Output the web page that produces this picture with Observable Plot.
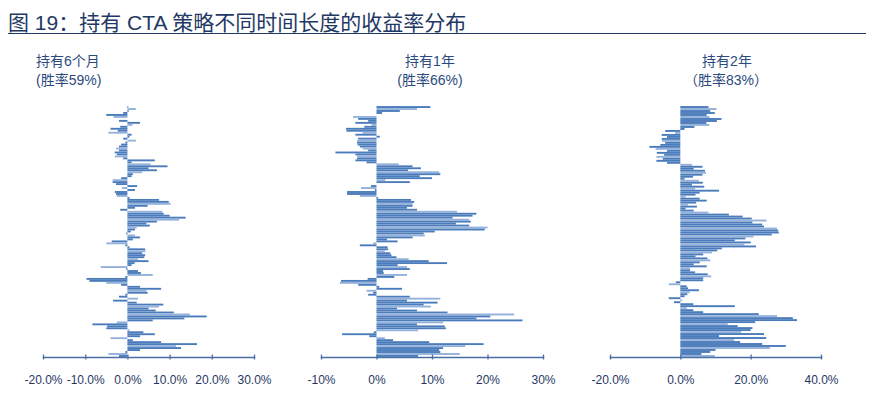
<!DOCTYPE html>
<html>
<head>
<meta charset="utf-8">
<script src="https://cdn.jsdelivr.net/npm/d3@7"></script>
<script src="https://cdn.jsdelivr.net/npm/@observablehq/plot@0.6"></script>
<style>
  html, body { margin: 0; padding: 0; background: #fff; }
  #chart { position: relative; width: 872px; height: 407px; overflow: hidden;
    font-family: "Liberation Sans", Arial, "Noto Sans CJK SC", sans-serif; }
  .title { position: absolute; left: 8px; top: 6px; font-size: 21px; color: #1f3864; white-space: nowrap; }
  .rule { position: absolute; left: 8px; top: 33px; width: 858px; height: 0; border-top: 1.6px solid #1f3864; }
  .lab { position: absolute; font-size: 14px; color: #2b4a7e; white-space: nowrap; line-height: 19px; }
  .panel { position: absolute; }
</style>
</head>
<body>
<div id="chart">
  <div class="title">图 19：持有 CTA 策略不同时间长度的收益率分布</div>
  <div class="rule"></div>
</div>
<script>
// Holding-period return distributions (%), top to bottom
const hold6m = [0.2, 2.0, 0.3, -1, -5, -3.3, 0, -2, 3, 1.2, -1.7, -4, -2.3, -4.5, 1, 0.5, -1, 2, -0.5, -1.5,
  -2, -2.7, -2, -3, -2.5, -3, -1, 6.5, 1, 5.5, 9.5, 5, 7, 3.5, 1.3, 1, -1.5, -3.5, -3.5, -2.7,
  2.3, -1.3, 1.8, -3, -2.7, -2.5, 0.5, 7.5, 9.8, 10.2, 4.8, 1.8, -1.7, 8.3, 8.6, 10, 13.8, 12.3, 7, 4.5,
  5.3, 2.2, 1.8, 0.8, -0.3, 1.8, 3, 1.3, -3.7, -5, -0.5, 0.5, 4.2, 4.3, 3.5, 4.2, 4, 2.5, 5, 1.7,
  1, -6.3, -0.3, 2.5, 3.2, 6, -0.5, -9.7, -9, -5, -1.5, 3, 8, 4.5, 4.8, -0.5, -2, 2.5, -3.4, 2.2,
  8.5, 7.5, 5, 6.7, 11, 14.8, 18.8, 13.5, 6, -2.5, -8.3, -4.8, -5, 0.5, 3.8, 6.5, 3, -4, 1.3, 8,
  16.5, 11.5, 12.7, 3, -0.5, -4.5, -2];
const hold1y = [9.7, 7.3, 4.2, 1, 0, -4.2, -3.3, -1.5, -3.8, -0.9, -2.2, -5.5, -5.4, -2.5, -3.8, 0.6, -3.3, -3.5, -3.5, -3.4,
  -3, -2.5, -1.5, -7.4, -3.8, -3.5, -3.5, -3.8, -1.8, 4, 6.5, 8, 5.7, 11.3, 11.5, 7.8, 10, 1.6, 6, 0,
  -1, -2.8, -0.3, -5.3, -5.3, -3, 0.3, 6.2, 6.8, 6.5, 6.5, 5.5, 7.3, 14.5, 18, 17.3, 13.7, 16.7, 17, 14.3,
  16.7, 20, 19.5, 10.5, 8.5, 8.7, 6.5, 1.9, 3.8, -0.6, -3, 2, 2.1, 1.5, 2.5, 2.7, 3.6, 5.8, 9.4, 12.7,
  3.8, 5.5, 6, 1.2, 1.3, 5.5, 3.2, -1.6, -6.4, -6.6, -3.3, 0.5, 4.6, -1.8, -0.6, -1.5, 6, 11.5, 5.5, 11,
  8.5, 9.8, 3.7, 7.3, 12.8, 24.8, 20.5, 18, 26.3, 12, 7.3, 12.3, 12.5, 7.5, -0.5, -6.2, -1.3, 1.5, 3, 9.5,
  19.3, 16, 12, 11.3, 11.5, 15, 7.5];
const hold2y = [8, 10.3, 8.5, 9.8, 7.5, 8.3, 11.7, 10.4, 7.4, 8.2, 4, 1.2, -4.3, -1.5, -5.3, -3.8, -5.3, -5.2, -4.3, -5.7,
  -8.8, -7, -3.8, -6.7, -4.6, -6.8, -5, -6.8, -3.8, 3.3, 6.3, 3.8, 7, 7.3, 6.3, 3.6, 1.2, 5.3, 6.4, 3.3,
  6.8, 4.2, 11, 5.5, 4.3, 1.5, 5.5, 7.5, 4.5, 2.2, 4.7, 1.5, 3.8, 8, 13.8, 17.7, 20.3, 24.5, 20.5, 23.3,
  23.8, 27.5, 27.8, 28, 26, 20.8, 18.5, 15.5, 20, 18.2, 21.5, 11.8, 10.5, 9, 6.5, 4.3, 7.7, 8.5, 5.5, 3.8,
  7.5, 2.7, 2.8, 4.2, 7.8, 8.8, 6.5, 6.5, -1.3, -3.3, 1.8, 2.2, 5.3, 2.7, 2, 1.2, -3.3, 0.5, -1.8, 3.7,
  15.5, 1.8, 3.7, 6.5, 22.3, 27.5, 32, 33.2, 21.3, 13.5, 16.3, 20.5, 20, 17.3, 23.8, 11, 24.4, 15.3, 17, 23.3,
  30, 25.5, 10, 8.5, 6, 9.8];

const ticks6m = [-20, -10, 0, 10, 20, 30];
const ticks1y = [-10, 0, 10, 20, 30];
const ticks2y = [-20, 0, 20, 40];

const panelTitles = ["持有6个月", "持有1年", "持有2年"];
const panelRates = ["(胜率59%)", "(胜率66%)", "（胜率83%）"];

const chart = document.getElementById("chart");

function addLabel(text, left, top, center) {
  const d = document.createElement("div");
  d.className = "lab";
  d.textContent = text;
  d.style.top = top + "px";
  d.style.left = left + "px";
  if (center) d.style.transform = "translateX(-50%)";
  chart.appendChild(d);
}
addLabel(panelTitles[0], 36, 52, false);
addLabel(panelRates[0], 36, 71, false);
addLabel(panelTitles[1], 430, 52, true);
addLabel(panelRates[1], 430, 71, true);
addLabel(panelTitles[2], 727, 52, true);
addLabel(panelRates[2], 726, 71, true);

const darkBlue = "#4a7bbb";
const lightBlue = "#93b1da";
const axisBlue = "#4a6fa5";
const labelNavy = "#1f3864";

function panel(values, ticks, fmt, left, width, mL, mR) {
  const top = 96, height = 300;
  const idx = d3.range(values.length);
  const svg = Plot.plot({
    width, height,
    marginLeft: mL, marginRight: mR, marginTop: 10, marginBottom: height - (357 - top),
    x: { domain: [ticks[0], ticks[ticks.length - 1]], axis: null },
    y: { domain: idx, axis: null, padding: 0.05 },
    style: { fontFamily: '"Liberation Sans", Arial, sans-serif', background: "transparent", overflow: "visible" },
    marks: [
      Plot.barX(idx, { x: i => values[i], y: i => i,
        fill: i => (i % 4 === 1 ? lightBlue : darkBlue) }),
      Plot.frame({ anchor: "bottom", stroke: axisBlue, strokeWidth: 1.5 }),
      Plot.axisX({ ticks, tickFormat: () => "", tickSize: 5, dy: -2.5, color: axisBlue, strokeWidth: 1.3 }),
      Plot.axisX({ ticks, tickFormat: fmt, tickSize: 0, tickPadding: 18, fontSize: 12, color: labelNavy })
    ]
  });
  svg.classList.add("panel");
  svg.style.left = left + "px";
  svg.style.top = top + "px";
  svg.querySelectorAll("text").forEach(t => t.setAttribute("fill", labelNavy));
  chart.appendChild(svg);
}

const fmt1 = d => d.toFixed(1) + "%";
const fmt0 = d => d + "%";
panel(hold6m, ticks6m, fmt1, 30, 240, 13, 16);
panel(hold1y, ticks1y, fmt0, 300, 260, 21, 17);
panel(hold2y, ticks2y, fmt1, 590, 250, 20, 19);
</script>
</body>
</html>
